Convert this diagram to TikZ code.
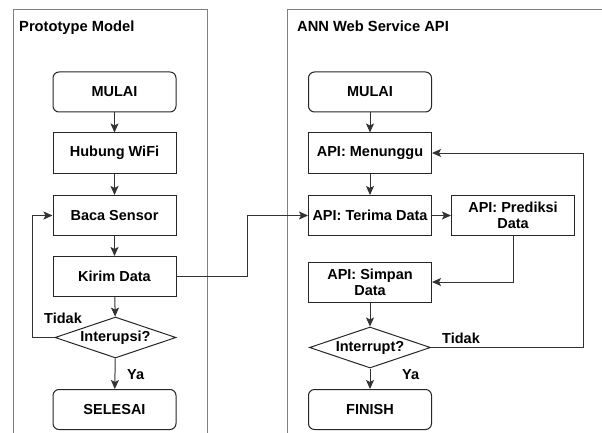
\documentclass[tikz,border=0pt]{standalone}
\usepackage{fontspec}
\setmainfont{Liberation Sans}
\usetikzlibrary{shapes.geometric,arrows.meta}
\tikzset{
  panel/.style={draw=black!50, line width=1pt},
  stepbox/.style={draw=black!85, line width=1pt, fill=white, minimum width=123pt, minimum height=40pt, inner sep=1pt, align=center, font=\bfseries\fontsize{14.5}{16}\selectfont},
  termbox/.style={stepbox, rounded corners=6pt},
  decbox/.style={draw=black!85, line width=1pt, shape=diamond, aspect=2.95, minimum width=121pt, minimum height=41pt, inner sep=0pt, font=\bfseries\fontsize{14.5}{16}\selectfont},
  arr/.style={draw=black!80, line width=1pt, -{Stealth[length=9pt,width=8pt,inset=2pt]}},
  lbl/.style={font=\bfseries\fontsize{14.5}{16}\selectfont, inner sep=0pt, anchor=base west},
  ttl/.style={font=\bfseries\fontsize{14.7}{16}\selectfont, inner sep=0pt, anchor=base west}
}
\begin{document}
\begin{tikzpicture}[x=1pt,y=-1pt]
\useasboundingbox (0,0) rectangle (602,433);
% panels
\draw[panel] (13,433) -- (13,10) -- (207,10) -- (207,433);
\draw[panel] (287,433) -- (287,10) -- (602,10);
\node[ttl] (t1) at (19,31.5) {Prototype Model};
\node[ttl] (t2) at (297,31.5) {ANN Web Service API};
% left flow
\node[termbox] (m1) at (114.5,92) {MULAI};
\node[stepbox] (wifi) at (114.5,153) {Hubung WiFi};
\node[stepbox] (baca) at (114.5,215.5) {Baca Sensor};
\node[stepbox] (kirim) at (114.5,276.5) {Kirim Data};
\node[decbox] (int1) at (115.5,337.5) {Interupsi?};
\node[termbox] (sel) at (114.5,409.5) {SELESAI};
\draw[arr] (m1) -- (wifi);
\draw[arr] (wifi) -- (baca);
\draw[arr] (baca) -- (kirim);
\draw[arr] (kirim) -- (int1);
\draw[arr] (int1) -- (sel);
\draw[arr] (int1.west) -- ++(-22,0) |- (baca.west);
\node[lbl] (tidak1) at (44,323.5) {Tidak};
\node[lbl] (ya1) at (127,379) {Ya};
% right flow
\node[termbox] (m2) at (370,92) {MULAI};
\node[stepbox] (menunggu) at (370,153) {API: Menunggu};
\node[stepbox] (terima) at (370,215.5) {API: Terima Data};
\node[stepbox] (prediksi) at (513,215.5) {API: Prediksi\\Data};
\node[stepbox] (simpan) at (370,282) {API: Simpan\\Data};
\node[decbox] (int2) at (370,347.5) {Interrupt?};
\node[termbox] (fin) at (370,409.5) {FINISH};
\draw[arr] (m2) -- (menunggu);
\draw[arr] (menunggu) -- (terima);
\draw[arr] (terima) -- (prediksi);
\draw[arr] (prediksi.south) |- (simpan.east);
\draw[arr] (simpan) -- (int2);
\draw[arr] (int2) -- (fin);
\draw[arr] (int2.east) -- ++(152,0) |- (menunggu.east);
\node[lbl] (tidak2) at (442,343) {Tidak};
\node[lbl] (ya2) at (402,379) {Ya};
% cross connector
\draw[arr] (kirim.east) -- ++(71,0) |- (terima.west);
\end{tikzpicture}
\end{document}
